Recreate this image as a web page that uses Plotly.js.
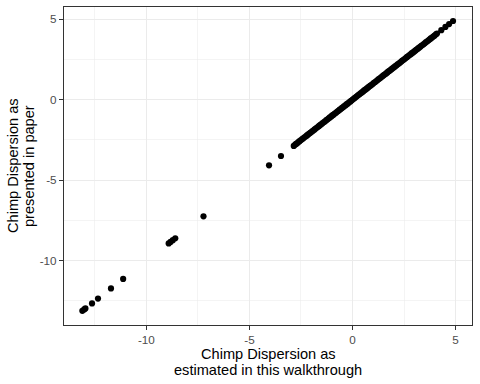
<!DOCTYPE html>
<html>
<head>
<meta charset="utf-8">
<script src="https://cdn.plot.ly/plotly-3.0.1.min.js"></script>
<style>html,body{margin:0;padding:0;background:#fff;}#chart{width:480px;height:384px;}</style>
</head>
<body>
<div id="chart"></div>
<script>
// Chimp dispersion: estimated in this walkthrough (x) vs presented in paper (y)
var estimated = [
  -13.11, -13.02, -12.96, -12.64, -12.35, -11.72, -11.13,
  -8.92, -8.83, -8.72, -8.60, -7.23, -4.05, -3.47,
  -2.85, -2.79, -2.74, -2.68, -2.61, -2.57, -2.50, -2.44, -2.39, -2.33,
  -2.26, -2.21, -2.15, -2.08, -2.03, -1.97, -1.92, -1.85, -1.80, -1.74,
  -1.67, -1.62, -1.56, -1.50, -1.45, -1.38, -1.33, -1.27, -1.21, -1.15,
  -1.10, -1.03, -0.98, -0.92, -0.86, -0.80, -0.75, -0.69, -0.62, -0.57,
  -0.51, -0.45, -0.40, -0.33, -0.28, -0.22, -0.16, -0.10, -0.05, 0.01,
  0.07, 0.12, 0.18, 0.24, 0.30, 0.35, 0.41, 0.47, 0.53, 0.58, 0.64,
  0.70, 0.76, 0.81, 0.87, 0.93, 0.99, 1.04, 1.10, 1.16, 1.22, 1.27,
  1.33, 1.39, 1.45, 1.50, 1.56, 1.62, 1.68, 1.73, 1.79, 1.85, 1.91,
  1.96, 2.02, 2.08, 2.14, 2.19, 2.25, 2.31, 2.37, 2.42, 2.48, 2.54,
  2.60, 2.65, 2.71, 2.77, 2.83, 2.88, 2.94, 3.00, 3.06, 3.11, 3.17,
  3.23, 3.29, 3.34, 3.40, 3.46, 3.52, 3.57, 3.63, 3.69, 3.75, 3.80,
  3.86, 3.92, 3.98, 4.05, 4.10,
  4.31, 4.51, 4.69, 4.88
];
var presented = [
  -13.12, -13.03, -12.97, -12.66, -12.36, -11.73, -11.14,
  -8.93, -8.84, -8.73, -8.61, -7.25, -4.08, -3.50,
  -2.87, -2.80, -2.75, -2.70, -2.62, -2.58, -2.51, -2.45, -2.40, -2.34,
  -2.27, -2.22, -2.16, -2.09, -2.04, -1.98, -1.93, -1.86, -1.81, -1.75,
  -1.68, -1.63, -1.57, -1.51, -1.45, -1.39, -1.34, -1.27, -1.22, -1.16,
  -1.10, -1.04, -0.98, -0.93, -0.86, -0.81, -0.75, -0.70, -0.62, -0.58,
  -0.51, -0.46, -0.40, -0.34, -0.28, -0.23, -0.16, -0.11, -0.05, 0.01,
  0.07, 0.12, 0.18, 0.24, 0.30, 0.35, 0.41, 0.47, 0.53, 0.59, 0.64,
  0.70, 0.76, 0.82, 0.87, 0.93, 0.99, 1.05, 1.10, 1.16, 1.22, 1.28,
  1.33, 1.39, 1.45, 1.51, 1.56, 1.62, 1.68, 1.74, 1.79, 1.85, 1.91,
  1.97, 2.02, 2.08, 2.14, 2.20, 2.25, 2.31, 2.37, 2.43, 2.48, 2.54,
  2.60, 2.66, 2.71, 2.77, 2.83, 2.89, 2.94, 3.00, 3.06, 3.12, 3.17,
  3.23, 3.29, 3.35, 3.40, 3.46, 3.52, 3.58, 3.63, 3.69, 3.75, 3.81,
  3.86, 3.92, 3.98, 4.06, 4.11,
  4.32, 4.52, 4.70, 4.89
];
var tickValues = [-10, -5, 0, 5];
var tickLabels = ["-10", "-5", "0", "5"];
var minorValues = [-12.5, -7.5, -2.5, 2.5];
var xTitleLines = ["Chimp Dispersion as", "estimated in this walkthrough"];
var yTitleLines = ["Chimp Dispersion as", "presented in paper"];

var FONT = "Liberation Sans, Arial, Helvetica, sans-serif";

function axisStyle(range) {
  return {
    range: range,
    tickmode: "array",
    tickvals: tickValues,
    ticktext: tickLabels,
    showgrid: true,
    gridcolor: "#EBEBEB",
    gridwidth: 1.1,
    zeroline: false,
    showline: true,
    linecolor: "#333333",
    linewidth: 1.1,
    mirror: true,
    ticks: "outside",
    ticklen: 4,
    tickwidth: 1.1,
    tickcolor: "#333333",
    tickfont: {family: FONT, size: 11.7, color: "#4D4D4D"},
    minor: {tickmode: "array", tickvals: minorValues, showgrid: true, gridcolor: "#EBEBEB", gridwidth: 0.55, ticks: ""},
    fixedrange: true
  };
}

var trace = {
  x: estimated,
  y: presented,
  type: "scatter",
  mode: "markers",
  marker: {color: "#000000", size: 6.2, line: {width: 0}},
  hoverinfo: "skip"
};

var titleFont = {family: FONT, size: 14.6, color: "#000000"};
var annotations = [
  {text: xTitleLines[0], xref: "paper", yref: "paper", x: 0.5, y: 0, xanchor: "center", yanchor: "middle", yshift: -29, showarrow: false, font: titleFont},
  {text: xTitleLines[1], xref: "paper", yref: "paper", x: 0.5, y: 0, xanchor: "center", yanchor: "middle", yshift: -45, showarrow: false, font: titleFont},
  {text: yTitleLines[0], xref: "paper", yref: "paper", x: 0, y: 0.5, xanchor: "center", yanchor: "middle", xshift: -51, textangle: -90, showarrow: false, font: titleFont},
  {text: yTitleLines[1], xref: "paper", yref: "paper", x: 0, y: 0.5, xanchor: "center", yanchor: "middle", xshift: -35, textangle: -90, showarrow: false, font: titleFont}
];

var layout = {
  width: 480,
  height: 384,
  margin: {l: 64, r: 8, t: 7, b: 59, pad: 0},
  paper_bgcolor: "#FFFFFF",
  plot_bgcolor: "#FFFFFF",
  showlegend: false,
  xaxis: axisStyle([-14.0, 5.8]),
  yaxis: axisStyle([-14.0, 5.76]),
  annotations: annotations,
  font: {family: FONT}
};

Plotly.newPlot("chart", [trace], layout, {displayModeBar: false, staticPlot: true});
</script>
</body>
</html>
